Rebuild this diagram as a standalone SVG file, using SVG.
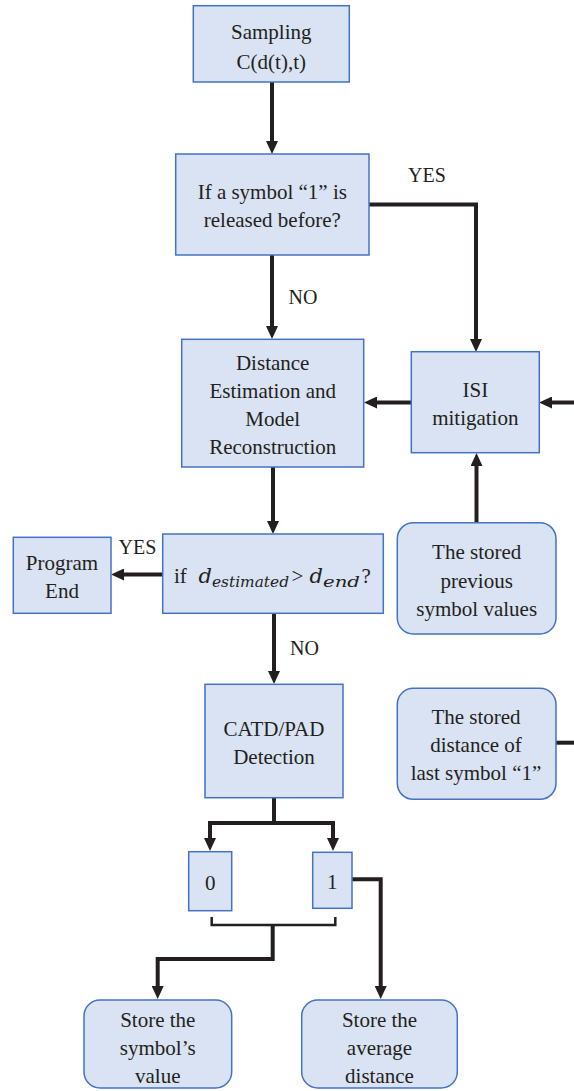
<svg xmlns="http://www.w3.org/2000/svg" width="574" height="1091" viewBox="0 0 574 1091">
<style>
.box{fill:#dae3f3;stroke:#4472c4;stroke-width:1.5}
.t{font-family:'Liberation Serif','Tinos','Times New Roman','Noto Serif','DejaVu Serif',Times,serif;font-size:21px;fill:#231f20;text-anchor:middle}
.lbl{font-family:'Liberation Serif','Tinos','Times New Roman','Noto Serif','DejaVu Serif',Times,serif;font-size:20px;fill:#231f20;text-anchor:middle}
.m{font-family:'DejaVu Serif','Liberation Serif','Noto Serif',serif;font-style:italic;fill:#231f20}
.r{font-family:'Liberation Serif','Tinos','Times New Roman','Noto Serif','DejaVu Serif',Times,serif;font-style:normal}
.c{fill:none;stroke:#231f20;stroke-width:4;stroke-linejoin:miter}
.a{marker-end:url(#ah)}
.thin{fill:none;stroke:#231f20;stroke-width:2.5}
</style>
<defs>
<marker id="ah" viewBox="0 0 13 12" refX="5" refY="6" markerWidth="13" markerHeight="12" markerUnits="userSpaceOnUse" orient="auto">
<path d="M0,0 L13,6 L0,12 z" fill="#231f20"/>
</marker>
</defs>
<g id="connectors">
<path class="c a" d="M272,82 V146"/>
<path class="c a" d="M272,255 V331"/>
<path class="c a" d="M369,204.5 H476 V344"/>
<path class="c a" d="M411,402.5 H372"/>
<path class="c a" d="M574,402.5 H547"/>
<path class="c a" d="M476.5,522.7 V461"/>
<path class="c a" d="M273,467 V526"/>
<path class="c a" d="M162.7,574.5 H119"/>
<path class="c a" d="M274,613.3 V676"/>
<path class="c" d="M556,742.7 H574"/>
<path class="c a" d="M274,798 V823 H210 V843"/>
<path class="c a" d="M274,823 H333 V843"/>
<path class="c a" d="M352,879.3 H380.7 V991"/>
<path class="thin" d="M211.7,917 V925 H335.3 V917"/>
<path class="c a" d="M272.7,925 V959 H157.7 V991"/>
</g>
<g id="sampling">
<rect class="box" x="193.3" y="5.7" width="156" height="76.3"/>
<text class="t" x="271.3" y="39">Sampling</text>
<text class="t" x="271.3" y="69">C(d(t),t)</text>
</g>
<g id="if-released">
<rect class="box" x="175.7" y="154" width="193.3" height="101"/>
<text class="t" x="272.3" y="199">If a symbol “1” is</text>
<text class="t" x="272.3" y="227">released before?</text>
</g>
<g id="labels">
<text class="lbl" x="427" y="182">YES</text>
<text class="lbl" x="303" y="304">NO</text>
<text class="lbl" x="137.5" y="554">YES</text>
<text class="lbl" x="304.5" y="655">NO</text>
</g>
<g id="distance-estimation">
<rect class="box" x="181.7" y="339.3" width="182" height="127.7"/>
<text class="t" x="272.7" y="369.5">Distance</text>
<text class="t" x="272.7" y="397.5">Estimation and</text>
<text class="t" x="272.7" y="425.5">Model</text>
<text class="t" x="272.7" y="453.5">Reconstruction</text>
</g>
<g id="isi-mitigation">
<rect class="box" x="411.3" y="351.7" width="128" height="101"/>
<text class="t" x="475.3" y="397">ISI</text>
<text class="t" x="475.3" y="425">mitigation</text>
</g>
<g id="condition">
<rect class="box" x="162.7" y="534" width="220.6" height="79.3"/>
<text x="174" y="582.5" class="m" font-size="21"><tspan class="r" x="174">if</tspan><tspan x="198.5">d</tspan><tspan x="212" y="586.5" font-size="14" textLength="77" lengthAdjust="spacingAndGlyphs">estimated</tspan><tspan class="r" x="291.5" y="582.5">&gt;</tspan><tspan x="309.5">d</tspan><tspan x="323" y="586.5" font-size="14" textLength="37" lengthAdjust="spacingAndGlyphs">end</tspan><tspan class="r" x="361.5" y="582.5">?</tspan></text>
</g>
<g id="program-end">
<rect class="box" x="13.3" y="537.3" width="97.7" height="76"/>
<text class="t" x="62" y="570">Program</text>
<text class="t" x="62" y="598">End</text>
</g>
<g id="stored-previous">
<rect class="box" x="397.3" y="522.7" width="158.7" height="111.3" rx="16" ry="16"/>
<text class="t" x="476.7" y="559">The stored</text>
<text class="t" x="476.7" y="587.5">previous</text>
<text class="t" x="476.7" y="615.5">symbol values</text>
</g>
<g id="catd-pad">
<rect class="box" x="205" y="684.3" width="138" height="113.4"/>
<text class="t" x="274" y="735.5">CATD/PAD</text>
<text class="t" x="274" y="764">Detection</text>
</g>
<g id="stored-distance">
<rect class="box" x="397.3" y="688.3" width="158.7" height="111" rx="16" ry="16"/>
<text class="t" x="476" y="724">The stored</text>
<text class="t" x="476" y="752">distance of</text>
<text class="t" x="476" y="780">last symbol “1”</text>
</g>
<g id="bit-0">
<rect class="box" x="188.7" y="851.7" width="43" height="59"/>
<text class="t" x="210.2" y="890">0</text>
</g>
<g id="bit-1">
<rect class="box" x="312.7" y="852.3" width="39.3" height="56"/>
<text class="t" x="332.3" y="889">1</text>
</g>
<g id="store-symbol">
<rect class="box" x="84" y="1000" width="147.7" height="88" rx="16" ry="16"/>
<text class="t" x="157.8" y="1027">Store the</text>
<text class="t" x="157.8" y="1055">symbol’s</text>
<text class="t" x="157.8" y="1083">value</text>
</g>
<g id="store-average">
<rect class="box" x="301.7" y="1000" width="155.6" height="88" rx="16" ry="16"/>
<text class="t" x="379.5" y="1027">Store the</text>
<text class="t" x="379.5" y="1055">average</text>
<text class="t" x="379.5" y="1083">distance</text>
</g>
</svg>
